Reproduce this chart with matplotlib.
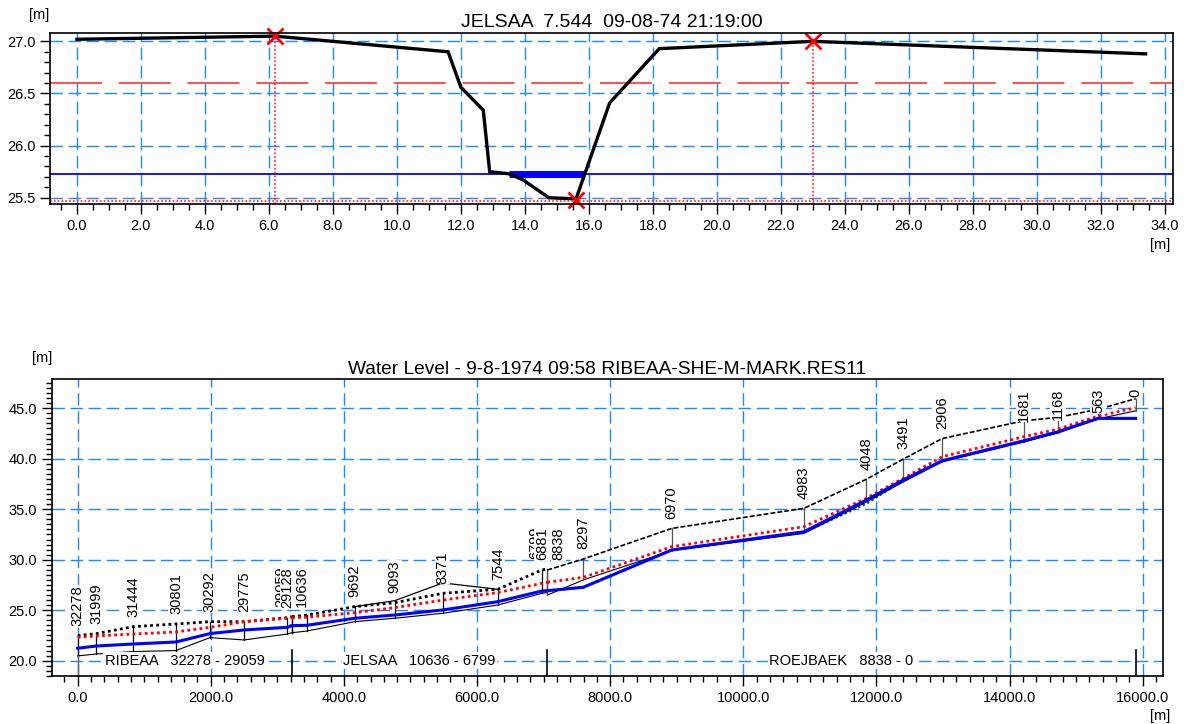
import matplotlib.pyplot as plt
from matplotlib.ticker import MultipleLocator, FormatStrFormatter
import numpy as np

plt.rcParams['font.family'] = ['Liberation Sans', 'DejaVu Sans']

# --- cross section JELSAA 7.544 ---
xs_x = [0.0, 6.2, 11.6, 12.0, 12.7, 12.9, 13.5, 13.95, 14.75, 15.6, 16.65, 18.2, 23.0, 33.4]
xs_z = [27.02, 27.05, 26.9, 26.56, 26.34, 25.75, 25.73, 25.67, 25.5, 25.49, 26.41, 26.93, 27.0, 26.88]
marker_x = [6.2, 23.0, 15.6]
marker_z = [27.05, 27.0, 25.48]
water_level = 25.727
wet_from, wet_to = 13.5, 15.85
max_level = 26.605
bottom_level = 25.47

# --- longitudinal profile ---
branches = ['RIBEAA', 'JELSAA', 'ROEJBAEK']
ribeaa_ch = [32278, 31999, 31444, 30801, 30292, 29775, 29128, 29059]
ribeaa_top = [22.48, 22.67, 23.37, 23.63, 23.86, 23.86, 24.26, 24.36]
ribeaa_wl = [21.23, 21.45, 21.65, 21.85, 22.68, 23.04, 23.3, 23.47]
ribeaa_max = [22.32, 22.45, 22.64, 22.84, 23.3, 23.86, 24.2, 24.25]
ribeaa_bed = [20.47, 20.66, 20.9, 21.0, 22.28, 22.05, 22.64, 22.77]

jelsaa_ch = [10636, 10415, 9692, 9093, 8371, 7544, 6881, 6799]
jelsaa_top = [24.36, 24.5, 25.35, 25.74, 26.67, 27.07, 28.98, 29.1]
jelsaa_rb = [24.36, 24.5, 25.35, 25.94, 27.7, 27.07, 28.98, 29.1]
jelsaa_wl = [23.47, 23.5, 24.2, 24.52, 25.02, 25.84, 26.9, 26.93]
jelsaa_max = [24.25, 24.3, 24.75, 25.25, 26.0, 26.75, 27.66, 27.76]
jelsaa_bed = [22.77, 22.93, 23.86, 24.2, 24.69, 25.51, 26.67, 26.75]

roej_ch = [8838, 8297, 6970, 4983, 4048, 3491, 2906, 1681, 1168, 563, 0]
roej_top = [28.98, 30.07, 33.1, 35.09, 37.96, 39.97, 42.0, 43.76, 44.1, 44.9, 45.95]
roej_wl = [26.93, 27.27, 30.96, 32.77, 35.9, 37.9, 39.8, 41.78, 42.67, 44.0, 44.0]
roej_max = [27.76, 28.25, 31.29, 33.27, 36.08, 38.06, 40.2, 42.18, 42.94, 44.23, 45.05]
roej_bed = [26.5, 28.0, 30.9, 32.6, 35.7, 37.7, 39.7, 41.65, 42.55, 43.95, 44.75]
roej_green = [26.93, 27.27, 30.96, 32.72, 35.55, 37.85, 39.8, 41.78, 42.67, 44.0, 44.0]

# distance along the route
rib_x = np.array([ribeaa_ch[0] - c for c in ribeaa_ch], dtype=float)
jel_x = rib_x[-1] + np.array([jelsaa_ch[0] - c for c in jelsaa_ch], dtype=float)
roe_x = jel_x[-1] + np.array([roej_ch[0] - c for c in roej_ch], dtype=float)

# labels that are moved sideways (points) so they do not sit on top of each other
label_shift = {29059: -8, 10636: 7, 6799: -9, 8838: 8}
no_label = [10415]
hidden_first = [29059, 6799]

grid_kw = dict(color='#1e88ff', lw=1.0, dashes=(9, 4))
fs = 10.5

fig = plt.figure(figsize=(11.97, 7.24), dpi=100)

# ---------------- top: cross section ----------------
ax1 = fig.add_axes([0.0418, 0.7182, 0.938, 0.2362])
ax1.set_xlim(-0.84, 34.25)
ax1.set_ylim(25.44, 27.08)
ax1.xaxis.set_major_locator(MultipleLocator(2))
ax1.xaxis.set_minor_locator(MultipleLocator(0.5))
ax1.yaxis.set_major_locator(MultipleLocator(0.5))
ax1.yaxis.set_minor_locator(MultipleLocator(0.1))
ax1.xaxis.set_major_formatter(FormatStrFormatter('%.1f'))
ax1.yaxis.set_major_formatter(FormatStrFormatter('%.1f'))
ax1.set_xticks(np.arange(0, 34.1, 2))
ax1.grid(True, which='major', **grid_kw)
ax1.set_axisbelow(True)

ax1.axhline(max_level, color='#ff2020', lw=1.1, dashes=(34, 11))
ax1.axhline(water_level, color='#0000ff', lw=1.3)
ax1.axhline(bottom_level, color='#ff2020', lw=1.2, ls=(0, (1, 1.3)))
for mx, mz in zip(marker_x[:2], marker_z[:2]):
    ax1.plot([mx, mx], [25.44, mz], color='#ff2020', lw=1.2, ls=(0, (1, 1.3)))
ax1.plot([wet_from, wet_to], [water_level, water_level], color='#0000ff', lw=5, solid_capstyle='butt')
ax1.plot(xs_x, xs_z, color='black', lw=2.4, solid_joinstyle='miter')
ax1.plot(marker_x, marker_z, 'x', color='red', ms=11, mew=2, clip_on=False)
ax1.set_title('JELSAA  7.544  09-08-74 21:19:00', fontsize=14, pad=4)

# ---------------- bottom: longitudinal profile ----------------
ax2 = fig.add_axes([0.0432, 0.0663, 0.9284, 0.4098])
ax2.set_xlim(-390, 16305)
ax2.set_ylim(18.48, 47.87)
ax2.xaxis.set_major_locator(MultipleLocator(2000))
ax2.xaxis.set_minor_locator(MultipleLocator(200))
ax2.yaxis.set_major_locator(MultipleLocator(5))
ax2.yaxis.set_minor_locator(MultipleLocator(0.5))
ax2.xaxis.set_major_formatter(FormatStrFormatter('%.1f'))
ax2.yaxis.set_major_formatter(FormatStrFormatter('%.1f'))
ax2.set_xticks(np.arange(0, 16001, 2000))
ax2.set_yticks(np.arange(20, 46, 5))
ax2.grid(True, which='major', **grid_kw)
ax2.set_axisbelow(True)

all_x = [rib_x, jel_x, roe_x]
all_ch = [ribeaa_ch, jelsaa_ch, roej_ch]
all_top = [ribeaa_top, jelsaa_top, roej_top]
all_bed = [ribeaa_bed, jelsaa_bed, roej_bed]
all_wl = [ribeaa_wl, jelsaa_wl, roej_wl]
all_max = [ribeaa_max, jelsaa_max, roej_max]

ax2.plot(roe_x, roej_green, color='green', lw=1.8, ls=(0, (1, 1)), zorder=2)
for i, (bx, top, bed, wl, mx) in enumerate(zip(all_x, all_top, all_bed, all_wl, all_max)):
    ax2.plot(bx, bed, color='black', lw=0.8, zorder=2)
    for x, b, t in zip(bx, bed, top):
        ax2.plot([x, x], [b, t], color='black' if i < 2 else '#555555', lw=0.9, zorder=2)
    if i < 2:
        ax2.plot(bx, top, color='black', lw=2.0, ls=(0, (1, 1.2)), zorder=3)
    else:
        ax2.plot(bx, top, color='black', lw=1.2, ls=(0, (3, 1.2)), zorder=3)
    ax2.plot(bx, mx, color='red', lw=2.0, ls=(0, (1, 1.2)), zorder=4)
    ax2.plot(bx, wl, color='#0000ff', lw=2.2, zorder=4)
ax2.plot(jel_x[2:6], jelsaa_rb[2:6], color='black', lw=0.9, zorder=3)

# branch boundaries
ax2.plot([0, 0], [18.48, ribeaa_bed[0]], color='#666666', lw=1.0, zorder=2)
for bx in [jel_x[0], roe_x[0], roe_x[-1]]:
    ax2.plot([bx, bx], [18.48, 21.1], color='black', lw=1.2, zorder=2)

# section labels
anns = []
for bx, chs, top in zip(all_x, all_ch, all_top):
    for x, c, t in zip(bx, chs, top):
        if c in no_label:
            continue
        a = ax2.annotate(str(c), (x, t), xytext=(label_shift.get(c, 0), 7), textcoords='offset points',
                         rotation=90, ha='center', va='bottom', fontsize=fs,
                         zorder=5 if c in hidden_first else 6,
                         bbox=dict(boxstyle='square,pad=0.05', fc='white', ec='none'))
        anns.append(a)

# branch names
starts = [rib_x[0], jel_x[0], roe_x[0]]
ends = [rib_x[-1], jel_x[-1], roe_x[-1]]
for name, chs, s, e in zip(branches, all_ch, starts, ends):
    ax2.text((s + e) / 2, 20.0, f'{name}   {chs[0]} - {chs[-1]}', ha='center', va='center',
             fontsize=fs, zorder=6,
             bbox=dict(boxstyle='square,pad=0.1', fc='white', ec='none'))

ax2.set_title('Water Level - 9-8-1974 09:58 RIBEAA-SHE-M-MARK.RES11', fontsize=13.8, pad=4)

for ax in (ax1, ax2):
    ax.tick_params(which='major', direction='out', length=7, width=1, labelsize=fs)
    ax.tick_params(which='minor', direction='out', length=4, width=1)
    for s in ax.spines.values():
        s.set_linewidth(1.2)

fig.text(0.033, 0.979, '[m]', fontsize=fs, ha='center', va='center')
fig.text(0.969, 0.662, '[m]', fontsize=fs, ha='center', va='center')
fig.text(0.035, 0.506, '[m]', fontsize=fs, ha='center', va='center')
fig.text(0.969, 0.011, '[m]', fontsize=fs, ha='center', va='center')

# labels near the top are pushed down so they stay inside the frame
fig.canvas.draw()
r = fig.canvas.get_renderer()
limit = ax2.transAxes.transform((0, 0.967))[1]
for a in anns:
    bb = a.get_window_extent(r)
    if bb.y1 > limit:
        dx, dy = a.xyann
        a.xyann = (dx, dy - (bb.y1 - limit) * 72 / fig.dpi)

fig.savefig('out.png', dpi=100)
